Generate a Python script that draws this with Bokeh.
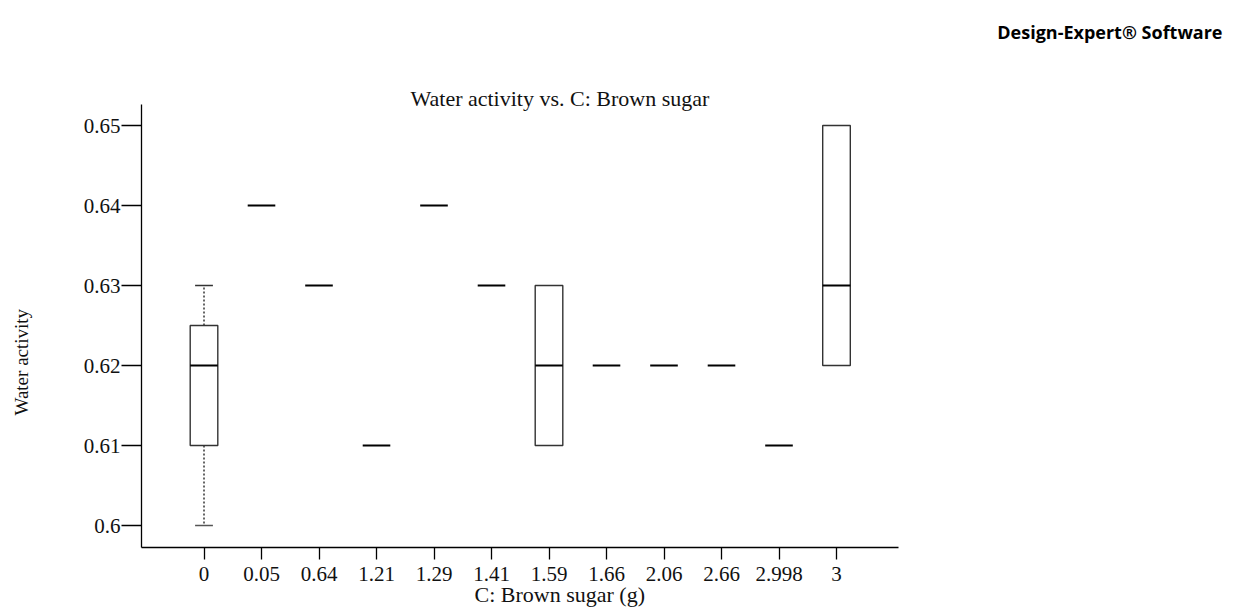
from bokeh.plotting import figure
from bokeh.models import Range1d, FixedTicker, Title, Label
from bokeh.embed import file_html
from bokeh.resources import INLINE

categories = ["0", "0.05", "0.64", "1.21", "1.29", "1.41", "1.59", "1.66", "2.06", "2.66", "2.998", "3"]
lower_whisker = [0.60, 0.64, 0.63, 0.61, 0.64, 0.63, 0.61, 0.62, 0.62, 0.62, 0.61, 0.62]
q1 = [0.61, 0.64, 0.63, 0.61, 0.64, 0.63, 0.61, 0.62, 0.62, 0.62, 0.61, 0.62]
median = [0.62, 0.64, 0.63, 0.61, 0.64, 0.63, 0.62, 0.62, 0.62, 0.62, 0.61, 0.63]
q3 = [0.625, 0.64, 0.63, 0.61, 0.64, 0.63, 0.63, 0.62, 0.62, 0.62, 0.61, 0.65]
upper_whisker = [0.63, 0.64, 0.63, 0.61, 0.64, 0.63, 0.63, 0.62, 0.62, 0.62, 0.61, 0.65]
y_ticks = [0.60, 0.61, 0.62, 0.63, 0.64, 0.65]
y_tick_labels = ["0.6", "0.61", "0.62", "0.63", "0.64", "0.65"]

SERIF = "Liberation Serif"
BOX_W = 0.48
CAP_W = 0.31
PX_X = 57.5     # pixels per category
PX_Y = 8000.0   # pixels per unit of water activity
Y_LO, Y_HI = 0.59725, 0.6526
X_LO, X_HI = -1.087, 12.078

pos = list(range(len(categories)))

# frame spans to the top and right edges so that the header texts can live inside it
p = figure(width=1238, height=614, output_backend="svg", toolbar_location=None, title_location=None,
           x_range=Range1d(X_LO, X_LO + (1238 - 141) / PX_X),
           y_range=Range1d(Y_LO, Y_LO + 547 / PX_Y),
           min_border_left=141, min_border_right=0, min_border_top=0, min_border_bottom=67)
p.outline_line_color = None
p.xgrid.grid_line_color = None
p.ygrid.grid_line_color = None
p.background_fill_color = "white"
p.border_fill_color = "white"

# axes
p.xaxis.ticker = FixedTicker(ticks=pos)
p.xaxis.major_label_overrides = {i: c for i, c in zip(pos, categories)}
p.xaxis.bounds = (X_LO, X_HI)
p.yaxis.ticker = FixedTicker(ticks=y_ticks)
p.yaxis.major_label_overrides = {t: l for t, l in zip(y_ticks, y_tick_labels)}
p.yaxis.bounds = (Y_LO, Y_HI)
for ax in (p.xaxis[0], p.yaxis[0]):
    ax.axis_line_color = "black"
    ax.axis_line_width = 1.3
    ax.major_tick_line_color = "black"
    ax.major_tick_line_width = 1.3
    ax.minor_tick_line_color = None
    ax.major_tick_in = 0
    ax.major_label_text_font = SERIF
    ax.major_label_text_font_size = "21px"
    ax.major_label_text_color = "#111111"
p.xaxis.major_tick_out = 12
p.yaxis.major_tick_out = 20
p.xaxis.major_label_standoff = 7
p.yaxis.major_label_standoff = 1

# whiskers (dotted) and caps
up_idx = [i for i in pos if upper_whisker[i] > q3[i]]
lo_idx = [i for i in pos if lower_whisker[i] < q1[i]]
p.segment(x0=[pos[i] for i in up_idx], y0=[q3[i] for i in up_idx],
          x1=[pos[i] for i in up_idx], y1=[upper_whisker[i] for i in up_idx],
          line_color="black", line_width=1.2, line_dash="2 2")
p.segment(x0=[pos[i] for i in lo_idx], y0=[q1[i] for i in lo_idx],
          x1=[pos[i] for i in lo_idx], y1=[lower_whisker[i] for i in lo_idx],
          line_color="black", line_width=1.2, line_dash="2 2")
p.segment(x0=[pos[i] - CAP_W / 2 for i in up_idx], y0=[upper_whisker[i] for i in up_idx],
          x1=[pos[i] + CAP_W / 2 for i in up_idx], y1=[upper_whisker[i] for i in up_idx],
          line_color="#333333", line_width=1.3)
p.segment(x0=[pos[i] - CAP_W / 2 for i in lo_idx], y0=[lower_whisker[i] for i in lo_idx],
          x1=[pos[i] + CAP_W / 2 for i in lo_idx], y1=[lower_whisker[i] for i in lo_idx],
          line_color="#555555", line_width=1.5)

# boxes
box_idx = [i for i in pos if q3[i] > q1[i]]
p.vbar(x=[pos[i] for i in box_idx], top=[q3[i] for i in box_idx], bottom=[q1[i] for i in box_idx],
       width=BOX_W, fill_color="white", line_color="#333333", line_width=1.4)

# medians
p.segment(x0=[x - BOX_W / 2 for x in pos], y0=median, x1=[x + BOX_W / 2 for x in pos], y1=median,
          line_color="black", line_width=2)

# header texts (inside the enlarged frame)
p.add_layout(Label(x=(410 - 203.5) / PX_X, y=Y_LO + (547 - 98) / PX_Y,
                   text="Water activity  vs. C: Brown sugar",
                   text_font=SERIF, text_font_size="22px", text_color="#111111",
                   text_align="left", text_baseline="middle"))
p.add_layout(Label(x=(1222 - 203.5) / PX_X, y=Y_LO + (547 - 31) / PX_Y,
                   text="Design-Expert® Software",
                   text_font="Open Sans", text_font_size="18px", text_font_style="bold",
                   text_color="black", text_align="right", text_baseline="middle"))

# axis titles
p.add_layout(Title(text="C: Brown sugar (g)", align="left", offset=333, standoff=-7,
                   text_font=SERIF, text_font_size="22px", text_font_style="normal",
                   text_color="#111111"), "below")
# spacer panel between the y axis and its label
p.add_layout(Title(text=" ", standoff=44, text_font_size="1px"), "left")
p.add_layout(Title(text="Water activity", align="left", offset=132, standoff=4,
                   text_font=SERIF, text_font_size="19px", text_font_style="normal",
                   text_color="#111111"), "left")

open("out.html", "w").write(file_html(p, INLINE))
